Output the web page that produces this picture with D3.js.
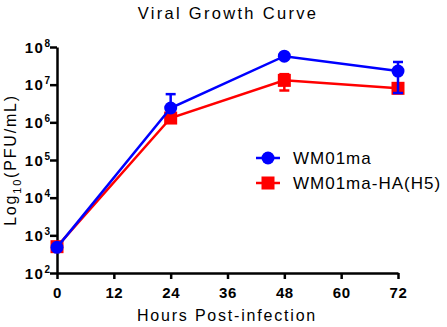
<!DOCTYPE html>
<html lang="en">
<head>
    <meta charset="UTF-8">
    <title>Viral Growth Curve</title>
    <script src="https://d3js.org/d3.v7.min.js"></script>
    <style>
        body { margin: 0; background: #fff; }
        text { font-family: "Liberation Sans", Arial, sans-serif; fill: #000; }
        .tick-label { font-size: 15px; font-weight: bold; }
        .axis-title { font-size: 16px; letter-spacing: 1.8px; }
    </style>
</head>
<body>
    <svg width="447" height="327"></svg>

    <script>
        // Data (PFU/mL, error = SD)
        const hours = [0, 24, 48, 72];
        const wm01ma = [480, 2.4e6, 5.7e7, 2.3e7];
        const wm01maSD = [0, 3.2e6, 0, 1.7e7];
        const wm01maHA = [500, 1.3e6, 1.3e7, 8e6];
        const wm01maHASD = [0, 0, 6e6, 0];
        const xTicks = [0, 12, 24, 36, 48, 60, 72];
        const yTicks = [2, 3, 4, 5, 6, 7, 8]; // exponents
        const seriesNames = ["WM01ma", "WM01ma-HA(H5)"];
        const colors = ["#0000ff", "#ff0000"];

        const width = 447;
        const height = 327;
        const margin = { top: 47, right: 49, bottom: 54, left: 57 };

        const xScale = d3.scaleLinear()
            .domain([0, 72])
            .range([margin.left, width - margin.right]);

        const yScale = d3.scaleLog()
            .domain([1e2, 1e8])
            .range([height - margin.bottom, margin.top]);

        const svg = d3.select("svg");

        // title
        svg.append("text")
            .attr("x", 228)
            .attr("y", 19)
            .attr("text-anchor", "middle")
            .style("font-size", "16.5px")
            .style("letter-spacing", "2.3px")
            .text("Viral Growth Curve");

        // X axis
        const xAxis = d3.axisBottom(xScale).tickValues(xTicks).tickSize(6).tickSizeOuter(0);
        const gx = svg.append("g")
            .attr("transform", `translate(0, ${yScale(1e2)})`)
            .call(xAxis);
        gx.select(".domain").attr("stroke-width", 2.5).attr("stroke", "#000");
        gx.selectAll(".tick line").attr("stroke-width", 2.5).attr("stroke", "#000");
        gx.selectAll(".tick text")
            .attr("class", "tick-label")
            .attr("dy", null)
            .attr("y", 25)
            .style("letter-spacing", "0.6px");

        // Y axis
        const yAxis = d3.axisLeft(yScale)
            .tickValues(yTicks.map(e => Math.pow(10, e)))
            .tickSize(7).tickSizeOuter(0)
            .tickFormat("");
        const gy = svg.append("g")
            .attr("transform", `translate(${xScale(0)}, 0)`)
            .call(yAxis);
        gy.select(".domain").attr("stroke-width", 2.5).attr("stroke", "#000");
        gy.selectAll(".tick line").attr("stroke-width", 2.5).attr("stroke", "#000");
        const yl = gy.selectAll(".tick").append("text")
            .attr("class", "tick-label")
            .attr("x", -7)
            .attr("y", 5)
            .attr("text-anchor", "end")
            .style("letter-spacing", "1.5px");
        yl.append("tspan").text("10");
        yl.append("tspan")
            .attr("dy", -6)
            .style("font-size", "10px")
            .style("letter-spacing", "0px")
            .text((d, i) => yTicks[i]);

        // axis titles
        svg.append("text")
            .attr("class", "axis-title")
            .attr("x", 227)
            .attr("y", 321)
            .attr("text-anchor", "middle")
            .text("Hours Post-infection");

        const ylab = svg.append("text")
            .attr("class", "axis-title")
            .attr("transform", "translate(16, 160) rotate(-90)")
            .attr("text-anchor", "middle");
        ylab.append("tspan").text("Log");
        ylab.append("tspan").attr("dy", 5).style("font-size", "11px").text("10");
        ylab.append("tspan").attr("dy", -5).text("(PFU/mL)");

        // series, red first so blue sits on top
        const series = [
            { name: seriesNames[1], values: wm01maHA, sd: wm01maHASD, color: colors[1], shape: "square" },
            { name: seriesNames[0], values: wm01ma, sd: wm01maSD, color: colors[0], shape: "circle" }
        ];

        const line = d3.line()
            .x((d, i) => xScale(hours[i]))
            .y(d => yScale(d));

        series.forEach(s => {
            const g = svg.append("g");
            g.append("path")
                .datum(s.values)
                .attr("fill", "none")
                .attr("stroke", s.color)
                .attr("stroke-width", 2.5)
                .attr("d", line);

            // error bars
            s.values.forEach((v, i) => {
                if (!s.sd[i]) return;
                const hi = v + s.sd[i];
                const lo = v - s.sd[i];
                const x = xScale(hours[i]);
                const yLo = lo > 0 ? yScale(lo) : yScale(v);
                g.append("line")
                    .attr("x1", x).attr("x2", x)
                    .attr("y1", yScale(hi)).attr("y2", yLo)
                    .attr("stroke", s.color).attr("stroke-width", 2.5);
                g.append("line")
                    .attr("x1", x - 5).attr("x2", x + 5)
                    .attr("y1", yScale(hi)).attr("y2", yScale(hi))
                    .attr("stroke", s.color).attr("stroke-width", 2.5);
                if (lo > 0) {
                    g.append("line")
                        .attr("x1", x - 5).attr("x2", x + 5)
                        .attr("y1", yLo).attr("y2", yLo)
                        .attr("stroke", s.color).attr("stroke-width", 2.5);
                }
            });

            // markers
            if (s.shape === "circle") {
                g.selectAll("circle").data(s.values).join("circle")
                    .attr("cx", (d, i) => xScale(hours[i]))
                    .attr("cy", d => yScale(d))
                    .attr("r", 6.5)
                    .attr("fill", s.color);
            } else {
                g.selectAll("rect").data(s.values).join("rect")
                    .attr("x", (d, i) => xScale(hours[i]) - 6.5)
                    .attr("y", d => yScale(d) - 6.5)
                    .attr("width", 13).attr("height", 13)
                    .attr("fill", s.color);
            }
        });

        // legend
        const legend = svg.append("g").attr("transform", "translate(256, 158)");
        seriesNames.forEach((name, i) => {
            const row = legend.append("g").attr("transform", `translate(0, ${i * 25})`);
            row.append("line")
                .attr("x1", 0).attr("x2", 24)
                .attr("stroke", colors[i]).attr("stroke-width", 2.5);
            if (i === 0) {
                row.append("circle").attr("cx", 12).attr("r", 6.5).attr("fill", colors[i]);
            } else {
                row.append("rect").attr("x", 5.5).attr("y", -6.5)
                    .attr("width", 13).attr("height", 13).attr("fill", colors[i]);
            }
            row.append("text")
                .attr("x", 37)
                .attr("y", 6)
                .style("font-size", "17px")
                .style("letter-spacing", "1px")
                .text(name);
        });
    </script>
</body>
</html>
